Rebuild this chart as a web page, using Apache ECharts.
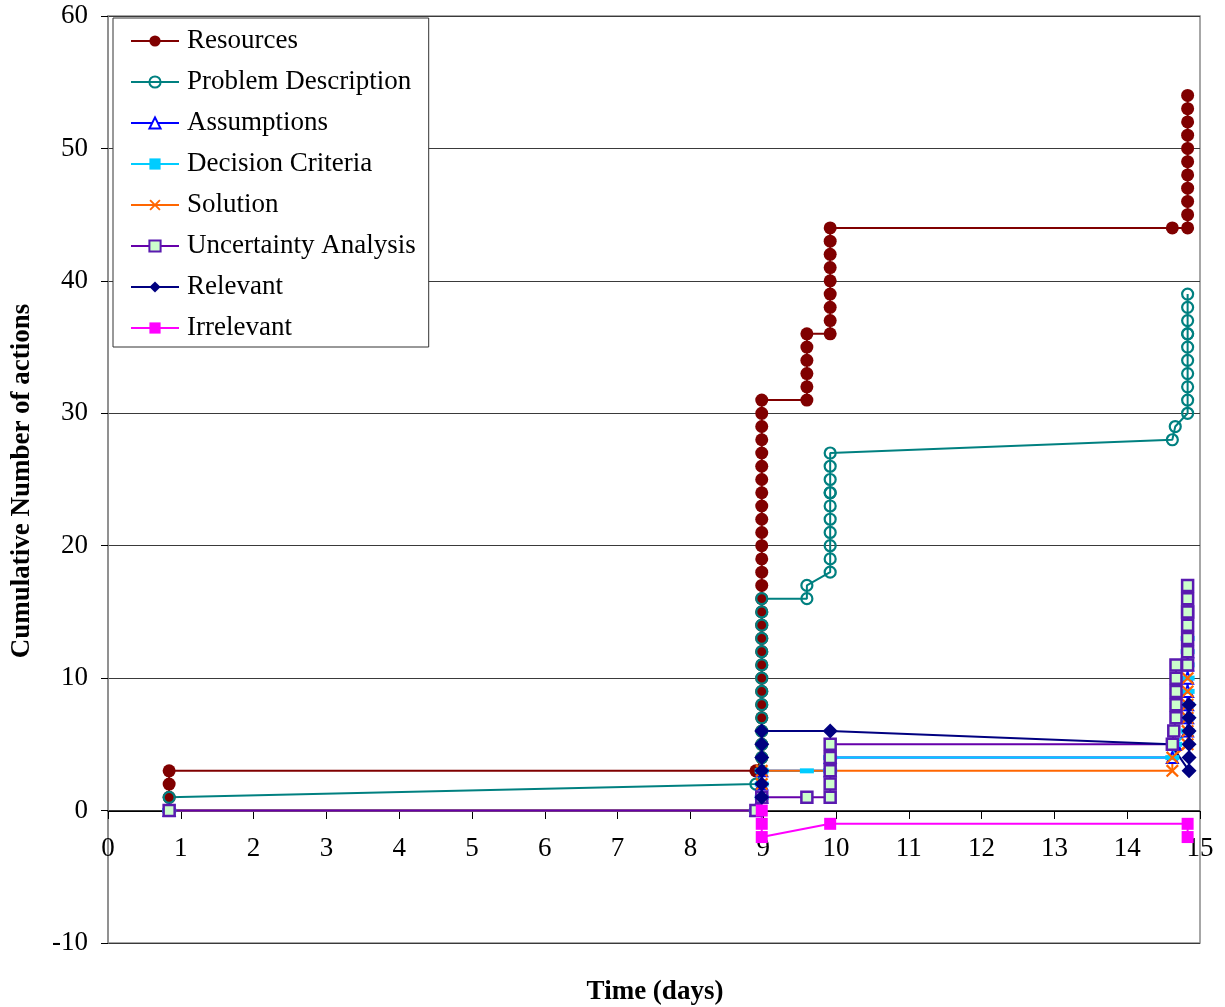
<!DOCTYPE html>
<html>
<head>
<meta charset="utf-8">
<script src="https://cdn.jsdelivr.net/npm/echarts@6/dist/echarts.min.js"></script>
<style>
html,body{margin:0;padding:0;background:#fff;}
#chart{width:1225px;height:1007px;}
</style>
</head>
<body>
<div id="chart"></div>
<script>
// ---- Data (time in days, cumulative number of actions) ----
const seriesNames = ["Resources","Problem Description","Assumptions","Decision Criteria","Solution","Uncertainty Analysis","Relevant","Irrelevant"];

const resources = [
  [0.84,1],[0.84,2],[0.84,3],[8.9,3],
  [8.98,4],[8.98,5],[8.98,6],[8.98,7],[8.98,8],[8.98,9],[8.98,10],[8.98,11],[8.98,12],[8.98,13],
  [8.98,14],[8.98,15],[8.98,16],[8.98,17],[8.98,18],[8.98,19],[8.98,20],[8.98,21],[8.98,22],[8.98,23],
  [8.98,24],[8.98,25],[8.98,26],[8.98,27],[8.98,28],[8.98,29],[8.98,30],[8.98,31],
  [9.6,31],[9.6,32],[9.6,33],[9.6,34],[9.6,35],[9.6,36],
  [9.92,36],[9.92,37],[9.92,38],[9.92,39],[9.92,40],[9.92,41],[9.92,42],[9.92,43],[9.92,44],
  [14.62,44],[14.83,44],[14.83,45],[14.83,46],[14.83,47],[14.83,48],[14.83,49],[14.83,50],
  [14.83,51],[14.83,52],[14.83,53],[14.83,54]
];
const problemDescription = [
  [0.84,1],[8.9,2],
  [8.98,3],[8.98,4],[8.98,5],[8.98,6],[8.98,7],[8.98,8],[8.98,9],[8.98,10],[8.98,11],[8.98,12],
  [8.98,13],[8.98,14],[8.98,15],[8.98,16],
  [9.6,16],[9.6,17],
  [9.92,18],[9.92,19],[9.92,20],[9.92,21],[9.92,22],[9.92,23],[9.92,24],[9.92,24],[9.92,25],[9.92,26],[9.92,27],
  [14.62,28],[14.66,29],
  [14.83,30],[14.83,31],[14.83,32],[14.83,33],[14.83,34],[14.83,35],[14.83,36],[14.83,36],[14.83,37],[14.83,38],[14.83,39]
];
const assumptions = [
  [0.84,0],[8.9,0],[8.98,1],[8.98,2],[8.98,3],[9.92,3],[9.92,4],[14.62,4],[14.66,5],
  [14.83,6],[14.83,7],[14.83,8],[14.83,9],[14.83,10],[14.83,11],[14.83,12]
];
const decisionCriteria = [
  [0.84,0],[8.9,0],[8.98,1],[8.98,2],[8.98,3],[9.6,3],[9.92,3],[9.92,4],[14.62,4],[14.66,5],
  [14.83,6],[14.83,7],[14.83,8],[14.83,9],[14.83,10],[14.83,11],[14.83,12],[14.83,13]
];
const solution = [
  [0.84,0],[8.9,0],[8.98,1],[8.98,2],[8.98,3],[9.92,3],[14.62,3],[14.62,4],
  [14.83,5],[14.83,6],[14.83,7],[14.83,8],[14.83,9],[14.83,10]
];
const uncertaintyAnalysis = [
  [0.84,0],[8.9,0],[8.98,1],[9.6,1],
  [9.92,1],[9.92,2],[9.92,3],[9.92,4],[9.92,5],
  [14.62,5],[14.64,6],[14.67,7],[14.67,8],[14.67,9],[14.67,10],[14.67,11],
  [14.83,11],[14.83,12],[14.83,13],[14.83,14],[14.83,15],[14.83,15],[14.83,16],[14.83,17]
];
const relevant = [
  [8.98,1],[8.98,2],[8.98,3],[8.98,4],[8.98,5],[8.98,6],[9.92,6],[14.6,5],
  [14.85,3],[14.85,4],[14.85,5],[14.85,6],[14.85,7],[14.85,8]
];
const irrelevant = [
  [8.98,0],[8.98,-1],[8.98,-2],[9.92,-1],[14.83,-1],[14.83,-2]
];

const xTicks = {min:0, max:15, interval:1};
const yTicks = {min:-10, max:60, interval:10};

// ---- Chart ----
const FONT = "'Liberation Serif','Times New Roman',serif";
const chart = echarts.init(document.getElementById('chart'), null, {renderer:'canvas'});

const xShape = 'path://M0,1.2 L1.2,0 L5,3.8 L8.8,0 L10,1.2 L6.2,5 L10,8.8 L8.8,10 L5,6.2 L1.2,10 L0,8.8 L3.8,5 Z';

function mk(name, data, opts){
  return Object.assign({
    name: name, type: 'line', data: data,
    animation: false, clip: false,
    lineStyle: {width: 2, color: opts.line},
    emphasis: {disabled: true}
  }, opts.extra);
}

// the Relevant point where its line meets the Uncertainty column is hidden in the original
const relevantSize = function(v){ return (v[0] > 14.5 && v[0] < 14.7) ? 0 : 15; };

const series = [
  mk(seriesNames[0], resources, {line:'#800000', extra:{symbol:'circle', symbolSize:13,
     itemStyle:{color:'#800000'}}}),
  mk(seriesNames[1], problemDescription, {line:'#008080', extra:{symbol:'circle', symbolSize:11,
     itemStyle:{color:'rgba(0,0,0,0)', borderColor:'#008080', borderWidth:2.2}}}),
  mk(seriesNames[2], assumptions, {line:'#0000FF', extra:{symbol:'triangle', symbolSize:11,
     itemStyle:{color:'#ffffff', borderColor:'#0000FF', borderWidth:2}}}),
  mk(seriesNames[3], decisionCriteria, {line:'#00CCFF', extra:{symbol:'rect', symbolSize:[14,5],
     itemStyle:{color:'#00CCFF'}}}),
  mk(seriesNames[4], solution, {line:'#FF6600', extra:{symbol:xShape, symbolSize:13,
     itemStyle:{color:'#FF6600'}}}),
  mk(seriesNames[5], uncertaintyAnalysis, {line:'#6600AA', extra:{symbol:'rect', symbolSize:11,
     itemStyle:{color:'#CCFFCC', borderColor:'#5A1AB0', borderWidth:2.5}}}),
  mk(seriesNames[6], relevant, {line:'#000080', extra:{symbol:'diamond', symbolSize:relevantSize,
     itemStyle:{color:'#000080'}}}),
  mk(seriesNames[7], irrelevant, {line:'#FF00FF', extra:{symbol:'rect', symbolSize:12,
     itemStyle:{color:'#FF00FF'}}})
];

const option = {
  backgroundColor: '#ffffff',
  animation: false,
  textStyle: {fontFamily: FONT},
  grid: {left:108, right:25, top:16, bottom:64, show:true, borderColor:'#8a8a8a', borderWidth:1.5, backgroundColor:'transparent'},
  legend: {
    orient:'vertical', left:113, top:18,
    padding:[8,13,4,17],
    itemWidth:48, itemHeight:14, itemGap:11,
    backgroundColor:'#ffffff', borderColor:'#333', borderWidth:1,
    textStyle:{fontFamily:FONT, fontSize:27, color:'#000', lineHeight:30, padding:[0,0,0,3]},
    data: seriesNames,
    selectedMode:false
  },
  xAxis: {
    type:'value', min:xTicks.min, max:xTicks.max, interval:xTicks.interval,
    position:'bottom', offset:-132,
    axisLine:{show:true, onZero:false, lineStyle:{color:'#000', width:1.2}},
    axisTick:{show:true, length:8, lineStyle:{color:'#000'}},
    axisLabel:{fontFamily:FONT, fontSize:27, color:'#000', margin:24},
    splitLine:{show:false}
  },
  yAxis: {
    type:'value', min:yTicks.min, max:yTicks.max, interval:yTicks.interval,
    axisLine:{show:true, lineStyle:{color:'#8a8a8a', width:1.5}},
    axisTick:{show:true, length:7, lineStyle:{color:'#000'}},
    axisLabel:{fontFamily:FONT, fontSize:27, color:'#000', margin:20},
    splitLine:{show:true, lineStyle:{color:'#3a3a3a', width:1.2}}
  },
  graphic: [
    {type:'text', x:22, y:481, rotation:Math.PI/2, z:10,
     style:{text:'Cumulative Number of actions', font:"bold 27px 'Liberation Serif','Times New Roman',serif", fill:'#000', textAlign:'center', textVerticalAlign:'middle'}},
    {type:'text', x:655, y:992, z:10,
     style:{text:'Time (days)', font:"bold 27px 'Liberation Serif','Times New Roman',serif", fill:'#000', textAlign:'center', textVerticalAlign:'middle'}}
  ],
  series: series
};
chart.setOption(option);
</script>
</body>
</html>
